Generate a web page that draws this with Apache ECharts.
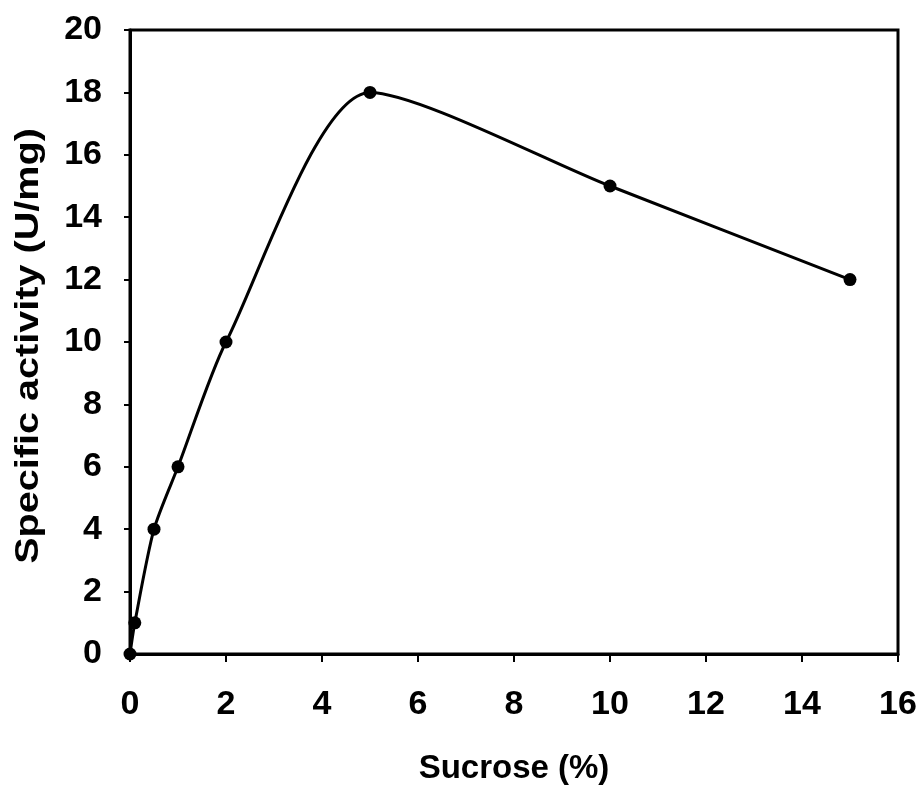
<!DOCTYPE html>
<html>
<head>
<meta charset="utf-8">
<script src="https://cdn.jsdelivr.net/npm/echarts@6/dist/echarts.min.js"></script>
<style>
  html, body { margin: 0; padding: 0; background: #fff; }
  #chart { width: 920px; height: 791px; }
</style>
</head>
<body>
<div id="chart"></div>
<script>
// Sucrose concentration (%) and measured specific activity (U/mg)
const sucrose = [0, 0.1, 0.5, 1, 2, 5, 10, 15];
const activity = [0, 1, 4, 6, 10, 18, 15, 12];
const xTicks = [0, 2, 4, 6, 8, 10, 12, 14, 16];
const yTicks = [0, 2, 4, 6, 8, 10, 12, 14, 16, 18, 20];
const xTitle = 'Sucrose (%)';
const yTitle = 'Specific activity (U/mg)';

const font = 'Liberation Sans, Arial, sans-serif';
const points = sucrose.map((x, i) => [x, activity[i]]);

const gridBox = { left: 130, right: 22, top: 30, bottom: 137 };
const H = 791;

const chart = echarts.init(document.getElementById('chart'), null, { renderer: 'canvas' });
chart.setOption({
  animation: false,
  backgroundColor: '#fff',
  grid: Object.assign({
    show: true, borderColor: '#000', borderWidth: 3, backgroundColor: 'transparent'
  }, gridBox),
  // vertical axis title, stretched a little along its length
  graphic: [{
    type: 'text',
    x: 29,
    y: (gridBox.top + (H - gridBox.bottom)) / 2 + 4,
    rotation: Math.PI / 2,
    scaleX: 1.2,
    style: {
      text: yTitle,
      font: 'bold 33px ' + font,
      fill: '#000',
      textAlign: 'center',
      textVerticalAlign: 'middle'
    }
  }],
  xAxis: {
    type: 'value',
    min: xTicks[0], max: xTicks[xTicks.length - 1], interval: xTicks[1] - xTicks[0],
    name: xTitle,
    nameLocation: 'middle', nameGap: 98,
    nameTextStyle: { fontFamily: font, fontWeight: 'bold', fontSize: 33, color: '#000' },
    axisLine: { show: true, lineStyle: { color: '#000', width: 3 } },
    axisTick: { show: true, inside: false, length: 8, lineStyle: { color: '#000', width: 2 } },
    axisLabel: { margin: 34, fontFamily: font, fontWeight: 'bold', fontSize: 34, color: '#000' },
    splitLine: { show: false }
  },
  yAxis: {
    type: 'value',
    min: yTicks[0], max: yTicks[yTicks.length - 1], interval: yTicks[1] - yTicks[0],
    axisLine: { show: true, lineStyle: { color: '#000', width: 3 } },
    axisTick: { show: true, inside: false, length: 6, lineStyle: { color: '#000', width: 2 } },
    axisLabel: { margin: 28, fontFamily: font, fontWeight: 'bold', fontSize: 34, color: '#000' },
    splitLine: { show: false }
  },
  series: [{
    type: 'line',
    data: points,
    smooth: 0.25,
    symbol: 'circle',
    symbolSize: 13,
    itemStyle: { color: '#000' },
    lineStyle: { color: '#000', width: 3 },
    clip: false
  }]
});
</script>
</body>
</html>
